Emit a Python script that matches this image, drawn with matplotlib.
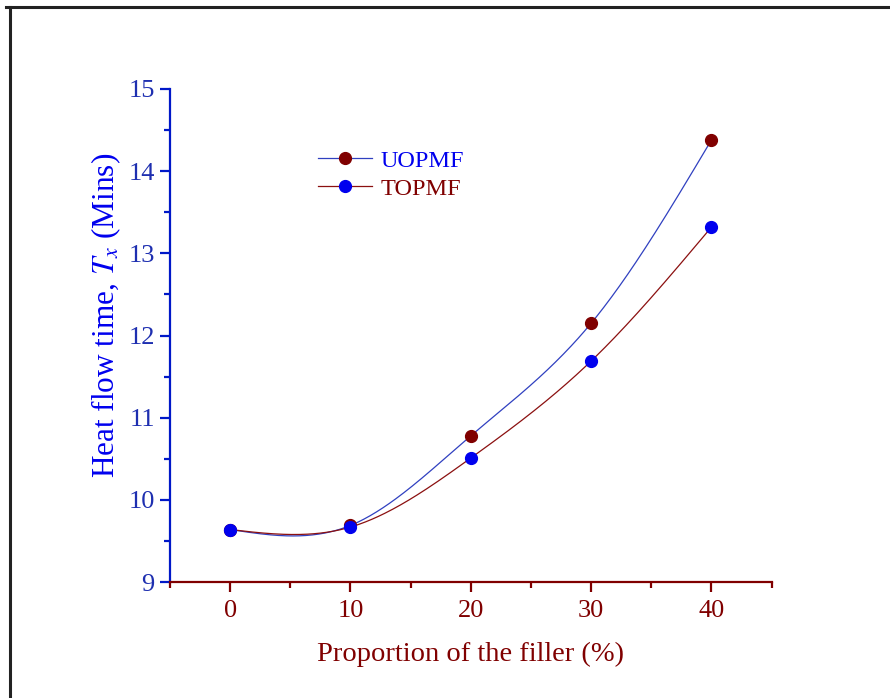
import numpy as np
import matplotlib
matplotlib.use("Agg")
import matplotlib.pyplot as plt
from matplotlib.lines import Line2D
from matplotlib.ticker import MultipleLocator

plt.rcParams["font.family"] = ["Liberation Serif", "DejaVu Serif"]
plt.rcParams["mathtext.fontset"] = "stix"

filler = [0, 10, 20, 30, 40]
uopmf = [9.64, 9.69, 10.78, 12.15, 14.38]
topmf = [9.64, 9.67, 10.51, 11.69, 13.32]

blue = "#0000EE"
navy = "#1E2FB0"
dred = "#800000"


def smooth(x, y, n=300):
    # natural cubic spline, only used to draw the connecting curve
    x = np.asarray(x, float)
    y = np.asarray(y, float)
    k = len(x)
    h = np.diff(x)
    A = np.zeros((k, k))
    b = np.zeros(k)
    A[0, 0] = A[-1, -1] = 1
    for i in range(1, k - 1):
        A[i, i - 1] = h[i - 1]
        A[i, i] = 2 * (h[i - 1] + h[i])
        A[i, i + 1] = h[i]
        b[i] = 6 * ((y[i + 1] - y[i]) / h[i] - (y[i] - y[i - 1]) / h[i - 1])
    m = np.linalg.solve(A, b)
    xs = np.linspace(x[0], x[-1], n)
    idx = np.clip(np.searchsorted(x, xs) - 1, 0, k - 2)
    x0, x1 = x[idx], x[idx + 1]
    hh = x1 - x0
    t0 = x1 - xs
    t1 = xs - x0
    ys = (m[idx] * t0**3 / (6 * hh) + m[idx + 1] * t1**3 / (6 * hh)
          + (y[idx] / hh - m[idx] * hh / 6) * t0
          + (y[idx + 1] / hh - m[idx + 1] * hh / 6) * t1)
    return xs, ys


fig = plt.figure(figsize=(8.9, 6.98), dpi=100)
ax = fig.add_axes([0.191, 0.166, 0.676, 0.7065])

xs, ys = smooth(filler, uopmf)
ax.plot(xs, ys, color="#3040C0", lw=0.9)
xs, ys = smooth(filler, topmf)
ax.plot(xs, ys, color="#8B1010", lw=0.9)
ax.plot(filler, uopmf, "o", color=dred, ms=8.5, zorder=3)
ax.plot(filler, topmf, "o", color=blue, ms=8.5, zorder=4)

ax.set_xlim(-5, 45)
ax.set_ylim(9, 15)
ax.xaxis.set_major_locator(MultipleLocator(10))
ax.xaxis.set_minor_locator(MultipleLocator(5))
ax.yaxis.set_major_locator(MultipleLocator(1))
ax.yaxis.set_minor_locator(MultipleLocator(0.5))

for s in ["top", "right"]:
    ax.spines[s].set_visible(False)
ax.spines["left"].set_color("#0018C8")
ax.spines["left"].set_linewidth(1.6)
ax.spines["bottom"].set_color(dred)
ax.spines["bottom"].set_linewidth(1.6)

ax.tick_params(axis="y", which="major", direction="out", length=7, width=1.6,
               color="#0018C8", labelcolor=navy, labelsize=19, pad=4)
ax.tick_params(axis="y", which="minor", direction="out", length=4, width=1.6,
               color="#0018C8")
ax.tick_params(axis="x", which="major", direction="out", length=7, width=1.6,
               color=dred, labelcolor=dred, labelsize=19, pad=6)
ax.tick_params(axis="x", which="minor", direction="out", length=4, width=1.6,
               color=dred)

ax.set_xlabel("Proportion of the filler (%)", fontsize=20.5, color=dred, labelpad=14)
ax.set_ylabel("Heat flow time, $T_x$ (Mins)", fontsize=22.5, color=blue)
ax.yaxis.set_label_coords(-0.078, 0.54)

handles = [
    Line2D([], [], color="#3040C0", lw=0.9, marker="o", ms=8.5,
           markerfacecolor=dred, markeredgecolor=dred),
    Line2D([], [], color="#8B1010", lw=0.9, marker="o", ms=8.5,
           markerfacecolor=blue, markeredgecolor=blue),
]
leg = ax.legend(handles, ["UOPMF", "TOPMF"], loc="upper left",
                bbox_to_anchor=(0.23, 0.897), frameon=False, fontsize=17.5,
                handlelength=2.2, handletextpad=0.35, labelspacing=0.25,
                borderaxespad=0)
leg.get_texts()[0].set_color(blue)
leg.get_texts()[1].set_color(dred)

# page frame
fig.add_artist(Line2D([6 / 890, 1], [1 - 7 / 698, 1 - 7 / 698], color="#222222", lw=2.2,
                      transform=fig.transFigure))
fig.add_artist(Line2D([10 / 890, 10 / 890], [1 - 7 / 698, 0], color="#222222", lw=2.2,
                      transform=fig.transFigure))

fig.savefig("out.png", dpi=100)
